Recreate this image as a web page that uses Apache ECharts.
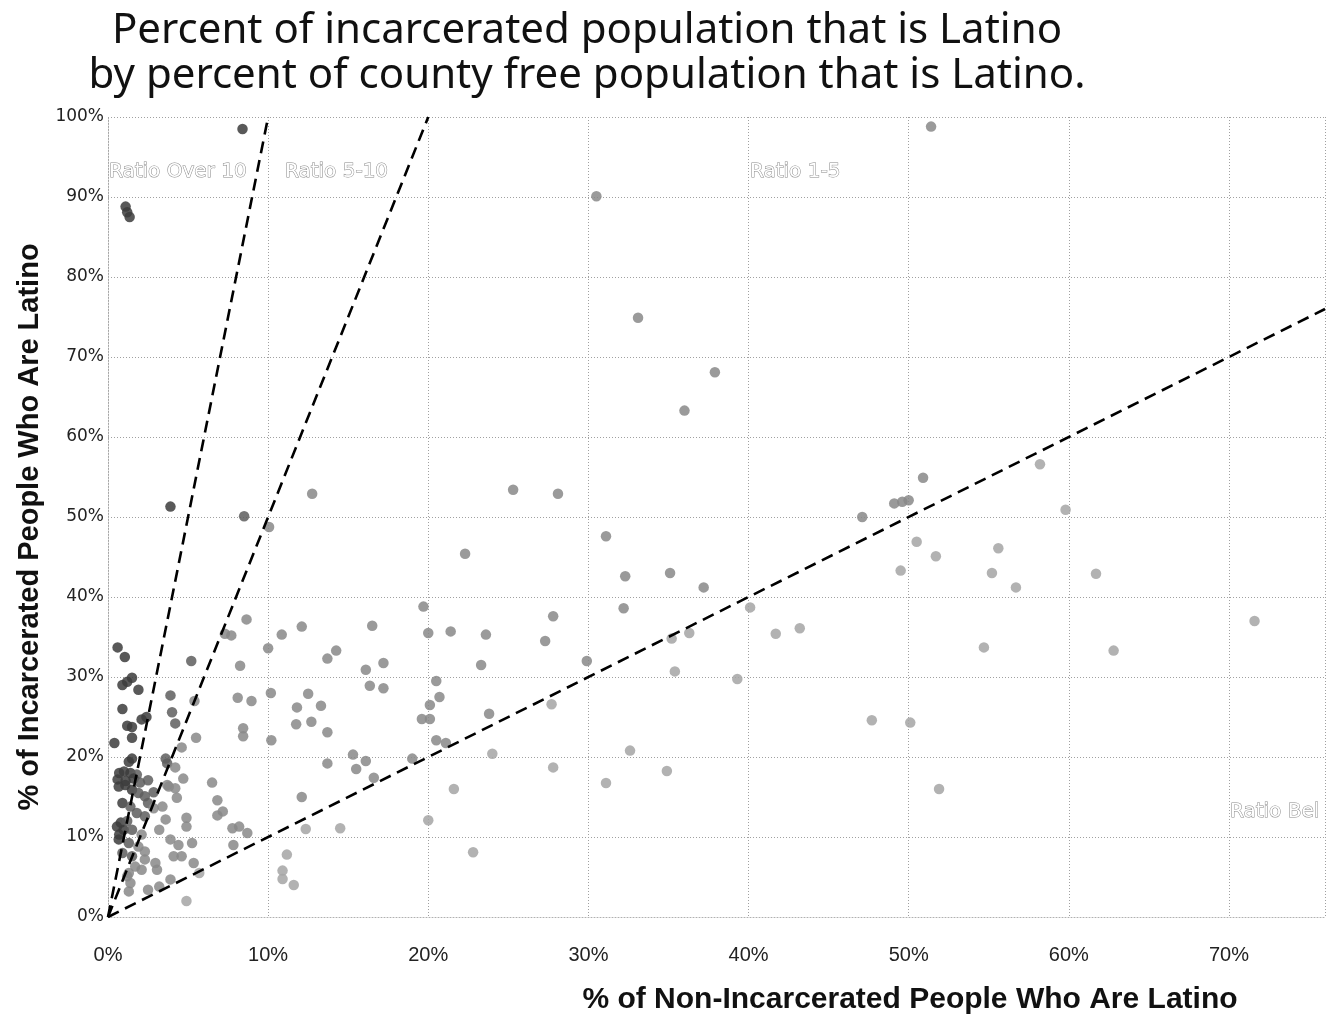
<!DOCTYPE html>
<html><head><meta charset="utf-8">
<script src="https://cdn.jsdelivr.net/npm/echarts@6/dist/echarts.min.js"></script>
<style>html,body{margin:0;padding:0;background:#fff}#c{width:1338px;height:1018px}</style>
</head><body><div id="c"></div>
<script>
// ---- data ----
const titleLines = ['Percent of incarcerated population that is Latino', 'by percent of county free population that is Latino.'];
const xAxisTitle = '% of Non-Incarcerated People Who Are Latino';
const yAxisTitle = '% of Incarcerated People Who Are Latino';
const regionLabels = ['Ratio Over 10', 'Ratio 5-10', 'Ratio 1-5', 'Ratio Below 1'];
const ratioLines = [10, 5, 1];
const xMax = 76, yMax = 100;
// [ % of non-incarcerated (free) population Latino, % of incarcerated population Latino ]
const counties = [
  [8.4,98.5],[51.4,98.8],[1.1,88.8],[1.2,88.1],[1.35,87.5],[30.5,90.1],[33.1,74.9],[37.9,68.1],[36.0,63.3],
  [58.2,56.6],[50.9,54.9],[49.1,51.7],[49.6,51.9],[50.0,52.1],[47.1,50.0],[59.8,50.9],[50.5,46.9],[51.7,45.1],
  [55.6,46.1],[49.5,43.3],[55.2,43.0],[56.7,41.2],[61.7,42.9],[41.7,35.4],[43.2,36.1],[54.7,33.7],[62.8,33.3],
  [71.6,37.0],[47.7,24.6],[50.1,24.3],[51.9,16.0],
  [25.3,53.4],[28.1,52.9],[22.3,45.4],[31.1,47.6],[32.3,42.6],[35.1,43.0],[37.2,41.2],[32.2,38.6],[40.1,38.7],
  [19.7,38.8],[20.0,35.5],[21.4,35.7],[23.6,35.3],[27.8,37.6],[27.3,34.5],[17.2,31.75],[23.3,31.5],[29.9,32.0],
  [35.2,34.8],[36.3,35.5],[35.4,30.7],[39.3,29.75],[17.2,28.6],[20.5,29.5],[20.7,27.5],[20.1,26.5],[19.6,24.75],
  [20.1,24.75],[23.8,25.4],[27.7,26.6],[20.5,22.1],[21.1,21.75],[24.0,20.4],[19.0,19.8],[27.8,18.7],[32.6,20.8],
  [34.9,18.25],[31.1,16.75],[21.6,16.0],[20.0,12.1],[22.8,8.1],
  [12.75,52.9],[8.5,50.1],[10.06,48.75],[3.9,51.3],
  [8.65,37.2],[7.3,35.4],[7.7,35.2],[10.85,35.3],[12.1,36.3],[16.5,36.4],[10.0,33.6],[5.2,32.0],[8.25,31.4],
  [13.7,32.3],[14.25,33.3],[16.1,30.9],[16.35,28.9],[10.17,28.0],[12.5,27.9],[8.1,27.4],[8.96,27.0],[11.8,26.2],
  [13.3,26.4],[11.75,24.1],[12.7,24.4],[13.7,23.1],[8.44,23.6],[8.44,22.6],[10.2,22.1],
  [6.5,16.8],[6.83,14.6],[7.17,13.2],[6.83,12.7],[12.1,15.0],[7.77,11.1],[8.19,11.3],[8.7,10.5],[7.83,9.0],
  [12.35,11.0],[14.5,11.1],[11.17,7.8],[10.9,5.8],[10.9,4.75],[11.6,4.0],[13.7,19.2],[15.3,20.3],[16.1,19.5],
  [15.5,18.5],[16.6,17.4],
  [0.6,33.7],[1.05,32.5],[1.2,29.4],[1.5,29.9],[0.9,29.0],[1.9,28.4],[3.9,27.7],[5.4,27.0],[0.9,26.0],
  [4.0,25.6],[4.2,24.2],[2.1,24.7],[2.4,25.0],[1.2,23.9],[1.5,23.75],[1.5,22.4],[0.4,21.75],[5.5,22.4],[4.6,21.2],
  [1.5,19.8],[1.3,19.4],[3.6,19.8],[3.7,19.2],[4.2,18.7],[4.7,17.3],[2.5,17.1],[3.8,16.3],[2.85,15.6],
  [0.7,18.0],[1.0,18.2],[1.4,18.0],[1.8,17.8],[0.6,17.2],[1.1,17.0],[1.6,17.3],[2.0,16.8],[0.67,16.3],[1.08,16.5],
  [1.5,15.9],[1.9,15.5],[2.3,15.1],[0.9,14.25],[1.4,13.8],[1.8,13.0],[2.3,12.6],[2.5,14.25],[2.85,13.6],[0.56,11.3],
  [0.98,10.9],[1.5,10.9],[2.1,10.3],[0.67,9.7],[1.3,9.25],[1.9,8.8],[2.3,8.2],[0.9,8.0],[1.5,7.6],[2.3,7.2],
  [1.7,6.3],[1.3,5.5],[0.8,11.8],[1.2,12.0],[0.7,10.3],
  [3.7,16.5],[4.2,16.1],[4.3,14.9],[3.4,13.8],[3.6,12.2],[3.2,10.9],[3.9,9.7],[4.4,9.0],[5.25,9.25],[4.1,7.6],
  [4.6,7.6],[5.35,6.75],[5.7,5.5],[2.96,6.75],[3.06,5.9],[2.1,5.9],[3.9,4.7],[3.2,3.8],[2.5,3.4],[1.4,4.25],
  [1.3,3.2],[1.2,5.1],[4.9,2.0],[4.9,12.4],[4.9,11.3]
];

// ---- chart ----
const chart = echarts.init(document.getElementById('c'), null, {renderer: 'canvas'});

function pointColor(p) {
  const r = p.value[1] / p.value[0];
  if (r > 10) return '#3c3c3c';
  if (r > 5) return '#5e5e5e';
  if (r > 1) return '#888888';
  return '#a4a4a4';
}

const lineSeries = ratioLines.map(r => {
  const xEnd = Math.min(xMax, yMax / r);
  return {
    type: 'line', data: [[0, 0], [xEnd, xEnd * r]], showSymbol: false, silent: true, z: 5,
    lineStyle: {color: '#000', width: 2.6, type: [12, 7]}, animation: false
  };
});

const regionStyle = {fill: '#fff', stroke: '#888', lineWidth: 1, fontFamily: 'DejaVu Sans', fontSize: 20};

chart.setOption({
  animation: false,
  backgroundColor: '#fff',
  grid: {left: 108, right: 13, top: 117, bottom: 101, containLabel: false},
  xAxis: {
    type: 'value', min: 0, max: xMax, interval: 10,
    axisLine: {show: true, lineStyle: {color: '#b0b0b0', type: [1, 2], width: 1}},
    axisTick: {show: false},
    axisLabel: {formatter: '{value}%', margin: 28, fontFamily: 'Liberation Sans', fontSize: 20, color: '#222', showMaxLabel: false},
    splitLine: {show: true, lineStyle: {color: '#a0a0a0', type: [1, 2], width: 1}}
  },
  yAxis: {
    type: 'value', min: 0, max: yMax, interval: 10,
    axisLine: {show: true, lineStyle: {color: '#b0b0b0', type: [1, 2], width: 1}},
    axisTick: {show: false},
    axisLabel: {formatter: '{value}%', margin: 4, fontFamily: 'DejaVu Sans', fontSize: 17, color: '#222'},
    splitLine: {show: true, lineStyle: {color: '#a0a0a0', type: [1, 2], width: 1}}
  },
  series: [{
    type: 'scatter', data: counties, symbolSize: 10.5, z: 3,
    itemStyle: {color: pointColor, opacity: 0.85}
  }].concat(lineSeries),
  graphic: [
    {type: 'text', x: 587, y: 9, style: {text: titleLines.join('\n'), fontFamily: 'Noto Sans', fontSize: 42, lineHeight: 45, fill: '#111', align: 'center'}},
    {type: 'text', x: 910, y: 1000, style: {text: xAxisTitle, fontFamily: 'Liberation Sans', fontWeight: 'bold', fontSize: 30, fill: '#111', align: 'center', verticalAlign: 'middle'}},
    {type: 'text', x: 30, y: 527, rotation: Math.PI / 2, style: {text: yAxisTitle, fontFamily: 'Liberation Sans', fontWeight: 'bold', fontSize: 29, fill: '#111', align: 'center', verticalAlign: 'middle'}},
    {type: 'text', x: 109, y: 172, z: 10, style: Object.assign({text: regionLabels[0], verticalAlign: 'middle'}, regionStyle)},
    {type: 'text', x: 285, y: 172, z: 10, style: Object.assign({text: regionLabels[1], verticalAlign: 'middle'}, regionStyle)},
    {type: 'text', x: 750, y: 172, z: 10, style: Object.assign({text: regionLabels[2], verticalAlign: 'middle'}, regionStyle)},
    {type: 'text', x: 1230, y: 812, z: 10, style: Object.assign({text: regionLabels[3], verticalAlign: 'middle', width: 95, overflow: 'truncate', ellipsis: ''}, regionStyle)}
  ]
});
</script></body></html>
